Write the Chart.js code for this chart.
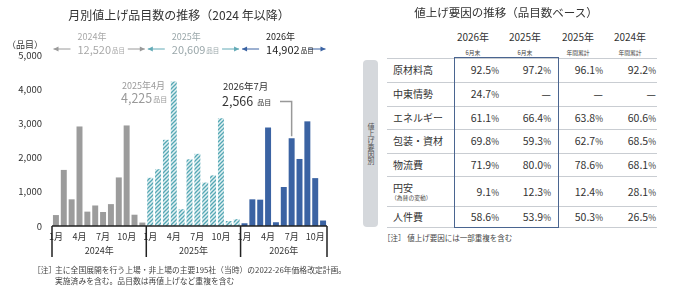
<!DOCTYPE html>
<html lang="ja">
<head>
<meta charset="utf-8">
<script src="https://cdn.jsdelivr.net/npm/chart.js@4"></script>
<style>
  body { margin: 0; width: 678px; height: 296px; background: #fff; position: relative; overflow: hidden;
         font-family: "Noto Sans CJK JP", "Noto Sans", sans-serif; color: #333; }
  .abs { position: absolute; white-space: nowrap; line-height: 1; }
  #bars { position: absolute; left: 0; top: 0; }
  .band { position: absolute; left: 363px; top: 60px; width: 15px; height: 167px; background: #d5d8dc; border-radius: 4px; }
  .band span { position: absolute; left: 50%; top: 50%; transform: translate(-50%, -50%); writing-mode: vertical-rl;
               text-orientation: upright; font-size: 7px; line-height: 1; color: #555; }
  .rule { position: absolute; left: 387px; width: 270px; height: 0; border-top: 1px solid #c9cdd2; }
  .box { position: absolute; left: 454px; top: 57px; width: 103px; height: 169px; border: 1px solid #4a6590; }
  .pct { font-size: 8.5px; }
</style>
</head>
<body>
<canvas id="bars" width="340" height="296"></canvas>

<script>
// ---------- left chart data ----------
const years = ["2024年", "2025年", "2026年"];
const items2024 = [320, 1640, 780, 2910, 420, 600, 410, 640, 1420, 2940, 330, 100];
const items2025 = [1410, 1660, 2520, 4225, 490, 1950, 2110, 1270, 1480, 3150, 145, 200];
const items2026 = [80, 780, 770, 2880, 110, 1140, 2566, 1960, 3060, 1400, 160];
const yearTotals = ["12,520", "20,609", "14,902"];
const monthTicks = ["1月", "4月", "7月", "10月"];

// ---------- right table data ----------
const factorNames = ["原材料高", "中東情勢", "エネルギー", "包装・資材", "物流費", "円安", "人件費"];
const factorSubs = ["", "", "", "", "", "（為替の変動）", ""];
const colYears = ["2026年", "2025年", "2025年", "2024年"];
const colSubs = ["6月末", "6月末", "年間累計", "年間累計"];
const share2026H1 = [92.5, 24.7, 61.1, 69.8, 71.9, 9.1, 58.6];
const share2025H1 = [97.2, null, 66.4, 59.3, 80.0, 12.3, 53.9];
const share2025 = [96.1, null, 63.8, 62.7, 78.6, 12.4, 50.3];
const share2024 = [92.2, null, 60.6, 68.5, 68.1, 28.1, 26.5];

const FONT = '"Noto Sans CJK JP", "Noto Sans", sans-serif';

function put(html, x, y, size, color, align, weight) {
  const d = document.createElement("div");
  d.className = "abs";
  d.innerHTML = html;
  d.style.fontSize = size + "px";
  d.style.color = color || "#333";
  if (weight) d.style.fontWeight = weight;
  d.style.left = x + "px";
  d.style.top = y + "px";
  const tx = align === "center" ? "-50%" : align === "right" ? "-100%" : "0";
  d.style.transform = "translate(" + tx + ", -50%)";
  document.body.appendChild(d);
  return d;
}

// ==================== left: bar chart ====================
const series = [items2024, items2025, items2026];
const labels = [];
const values = [];
const yearOf = [];
series.forEach((arr, yi) => {
  arr.forEach((v, mi) => {
    labels.push((mi + 1) + "月");
    values.push(v);
    yearOf.push(yi);
  });
});

const canvas = document.getElementById("bars");
const ctx = canvas.getContext("2d");

function hatch() {
  const c = document.createElement("canvas");
  c.width = 4; c.height = 4;
  const p = c.getContext("2d");
  p.fillStyle = "#e2f1f3";
  p.fillRect(0, 0, 4, 4);
  p.strokeStyle = "#54a7b4";
  p.lineWidth = 1.3;
  p.beginPath();
  p.moveTo(0, 4); p.lineTo(4, 0);
  p.moveTo(-1, 1); p.lineTo(1, -1);
  p.moveTo(3, 5); p.lineTo(5, 3);
  p.stroke();
  return ctx.createPattern(c, "repeat");
}

const yearColors = ["#9c9c9c", hatch(), "#3b63a3"];
const arrowColors = ["#9a9a9a", "#62aab6", "#3b63a3"];
const headColors = ["#a8a8a8", "#9aa7aa", "#222"];

function arrow(c, x1, x2, y, tipAt) {
  c.beginPath();
  c.moveTo(x1, y); c.lineTo(x2, y);
  c.stroke();
  const dir = tipAt === x1 ? 1 : -1;
  c.beginPath();
  c.moveTo(tipAt, y);
  c.lineTo(tipAt + dir * 5, y - 2.5);
  c.lineTo(tipAt + dir * 5, y + 2.5);
  c.closePath();
  c.fill();
}

const decor = {
  id: "decor",
  afterDraw(chart) {
    const c = chart.ctx;
    const a = chart.chartArea;
    const x = chart.scales.x;
    const y = chart.scales.y;
    const step = x.getPixelForValue(1) - x.getPixelForValue(0);
    const bounds = [a.left];
    let n = 0;
    series.forEach(arr => { n += arr.length; bounds.push(x.getPixelForValue(n - 1) + step / 2); });

    c.save();
    // axis line and year brackets
    c.strokeStyle = "#222";
    c.lineWidth = 1.5;
    c.beginPath();
    c.moveTo(a.left, a.bottom); c.lineTo(a.right, a.bottom);
    bounds.forEach(b => { c.moveTo(b, a.bottom); c.lineTo(b, a.bottom + 31); });
    c.stroke();

    c.fillStyle = "#333";
    c.font = "9px " + FONT;
    c.textAlign = "center";
    c.textBaseline = "middle";
    years.forEach((yr, i) => c.fillText(yr, (bounds[i] + bounds[i + 1]) / 2, a.bottom + 25));

    // unit label
    c.textAlign = "right";
    c.fillText("（品目）", 43, 45);

    // yearly totals with arrows
    years.forEach((yr, i) => {
      const l = bounds[i] + 1.5, r = bounds[i + 1] - 1.5;
      c.strokeStyle = arrowColors[i];
      c.fillStyle = arrowColors[i];
      c.lineWidth = 1;
      arrow(c, l, l + 17, 49, l);
      arrow(c, r - 17, r, 49, r);
      c.fillStyle = headColors[i];
      c.textAlign = "left";
      c.font = "9px " + FONT;
      c.fillText(yr, l + 24, 37);
      c.font = "11px " + FONT;
      c.fillText(yearTotals[i], l + 24, 50);
      const w = c.measureText(yearTotals[i]).width;
      c.font = "6.5px " + FONT;
      c.fillText("品目", l + 24 + w + 1, 51);
    });

    // callout: 2025年4月
    const i1 = items2024.length + 3;
    c.fillStyle = "#9a9a9a";
    c.textAlign = "left";
    c.font = "9px " + FONT;
    c.fillText(years[1] + "4月", 122, 86);
    c.font = "12.5px " + FONT;
    const v1 = values[i1].toLocaleString("en-US");
    c.fillText(v1, 121, 98);
    let w1 = c.measureText(v1).width;
    c.font = "7px " + FONT;
    c.fillText("品目", 121 + w1 + 1, 99);

    // callout: 2026年7月
    const i2 = items2024.length + items2025.length + 6;
    c.fillStyle = "#333";
    c.font = "9.5px " + FONT;
    c.fillText(years[2] + "7月", 223, 86);
    c.font = "12.5px " + FONT;
    const v2 = values[i2].toLocaleString("en-US");
    c.fillText(v2, 222, 101);
    let w2 = c.measureText(v2).width;
    c.font = "7px " + FONT;
    c.fillText("品目", 222 + w2 + 4, 102);
    const px = x.getPixelForValue(i2);
    c.strokeStyle = "#999";
    c.lineWidth = 1.5;
    c.beginPath();
    c.moveTo(280, 101.5); c.lineTo(px, 101.5); c.lineTo(px, y.getPixelForValue(values[i2]) - 2);
    c.stroke();
    c.restore();
  }
};

Chart.defaults.font.family = FONT;

new Chart(ctx, {
  type: "bar",
  data: {
    labels: labels,
    datasets: [{
      data: values,
      backgroundColor: yearOf.map(i => yearColors[i]),
      borderWidth: 0,
      barPercentage: 0.76,
      categoryPercentage: 1.0
    }]
  },
  options: {
    responsive: false,
    animation: false,
    layout: { padding: { top: 55, right: 13, left: 0, bottom: 0 } },
    plugins: { legend: { display: false }, tooltip: { enabled: false } },
    scales: {
      x: {
        grid: { display: false, drawTicks: false },
        border: { display: false },
        ticks: {
          autoSkip: false, maxRotation: 0, minRotation: 0, padding: 5,
          color: "#333", font: { size: 9 },
          callback: function (v, i) { return monthTicks.includes(labels[i]) ? labels[i] : ""; }
        },
        afterFit: s => { s.height = 70; }
      },
      y: {
        min: 0, max: 5000,
        grid: { display: false, drawTicks: false },
        border: { display: false },
        ticks: {
          stepSize: 1000, padding: 10, color: "#333", font: { size: 9.5 },
          callback: v => v.toLocaleString("en-US")
        },
        afterFit: s => { s.width = 52; }
      }
    }
  },
  plugins: [decor]
});

// titles and notes (left)
put("月別値上げ品目数の推移（2024 年以降）", 179, 15, 12, "#333", "center");
put("［注］", 33, 269.5, 7.8, "#444", "left");
put("主に全国展開を行う上場・非上場の主要195社（当時）の2022-26年価格改定計画。", 55, 269.5, 7.8, "#444", "left");
put("実施済みを含む。品目数は再値上げなど重複を含む", 55, 281, 7.8, "#444", "left");

// ==================== right: table ====================
put("値上げ要因の推移（品目数ベース）", 506, 13, 11.5, "#333", "center");

const colRight = [499, 551, 603, 656];
const colCenter = [473, 525, 578, 630];
colYears.forEach((t, i) => {
  put(t, colCenter[i], 37, 10, "#333", "center");
  put(colSubs[i], colCenter[i], 52.5, 5.8, "#444", "center");
});

const band = document.createElement("div");
band.className = "band";
band.innerHTML = "<span>値上げ要因別</span>";
document.body.appendChild(band);

const rowHeights = [24.5, 23.5, 23.5, 23.5, 23.5, 30, 21];
const columns = [share2026H1, share2025H1, share2025, share2024];
let rowTop = 57.5;
function rule(yy) {
  const r = document.createElement("div");
  r.className = "rule";
  r.style.top = yy + "px";
  document.body.appendChild(r);
}
rule(rowTop);
factorNames.forEach((name, ri) => {
  const h = rowHeights[ri];
  const mid = rowTop + h / 2 + 0.5;
  if (factorSubs[ri]) {
    put(name, 393, mid - 4, 10, "#333", "left");
    put(factorSubs[ri], 391, mid + 6.5, 5.8, "#444", "left");
  } else {
    put(name, 393, mid, 10, "#333", "left");
  }
  columns.forEach((col, ci) => {
    const v = col[ri];
    const txt = v === null ? "—" : v.toFixed(1) + '<span class="pct">%</span>';
    put(txt, colRight[ci], mid, 10.5, "#333", "right");
  });
  rowTop += h;
  rule(rowTop);
});

const box = document.createElement("div");
box.className = "box";
document.body.appendChild(box);

put("［注］ 値上げ要因には一部重複を含む", 383, 238, 7.5, "#444", "left");
</script>
</body>
</html>
